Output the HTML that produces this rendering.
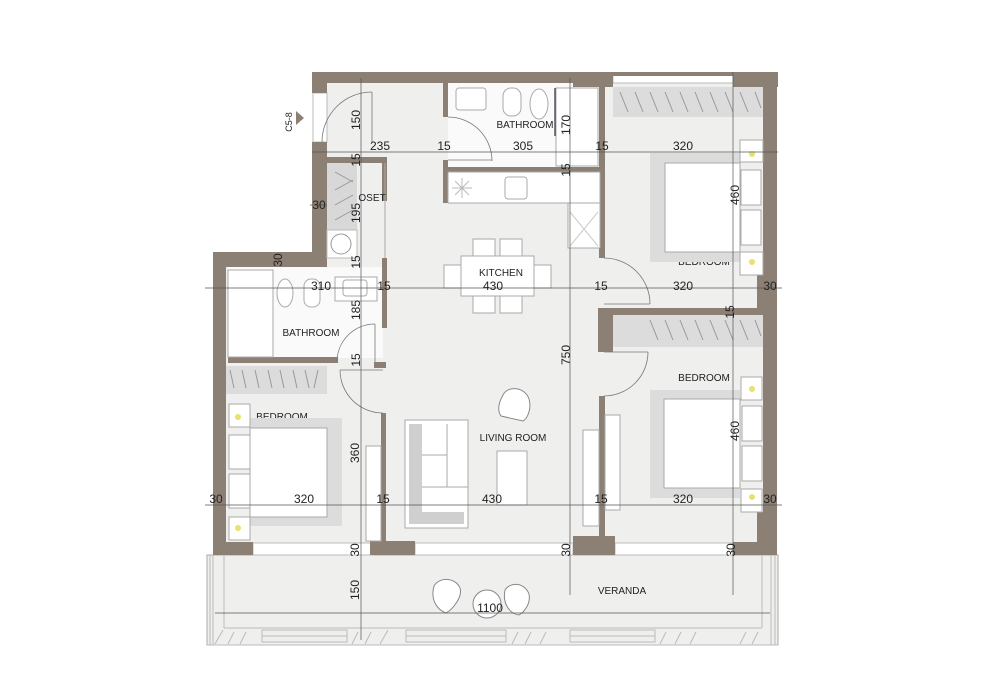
<!DOCTYPE html>
<html><head><meta charset="utf-8"><style>
html,body{margin:0;padding:0;background:#fff}
svg{display:block}
text{font-family:"Liberation Sans",sans-serif;fill:#222}
</style></head><body>
<svg width="1000" height="686" viewBox="0 0 1000 686" xmlns="http://www.w3.org/2000/svg">
<g fill="#efefee">
<rect x="327" y="83" width="440" height="460"/>
<rect x="226" y="265" width="110" height="278"/>
</g>
<rect x="448" y="83" width="152" height="84" fill="#fafafa"/>
<rect x="228" y="267" width="155" height="91" fill="#fafafa"/>
<rect x="207" y="555" width="571" height="90" fill="#efefee" stroke="#aaa" stroke-width="1"/>
<g stroke="#bbb" fill="none" stroke-width="1">
<line x1="210" y1="555" x2="210" y2="645"/><line x1="213" y1="555" x2="213" y2="645"/><line x1="224" y1="555" x2="224" y2="628"/>
<line x1="762" y1="555" x2="762" y2="628"/><line x1="771" y1="555" x2="771" y2="645"/><line x1="775" y1="555" x2="775" y2="645"/>
<line x1="224" y1="628" x2="762" y2="628"/><line x1="207" y1="645" x2="778" y2="645"/>
<rect x="262" y="630" width="85" height="12"/><rect x="406" y="630" width="100" height="12"/><rect x="570" y="630" width="85" height="12"/>
<line x1="262" y1="636" x2="347" y2="636"/><line x1="406" y1="636" x2="506" y2="636"/><line x1="570" y1="636" x2="655" y2="636"/>
<path d="M215 644l8-14M228 644l6-12M240 644l6-12M352 644l6-12M365 644l6-12M380 644l8-14M512 644l6-12M525 644l6-12M540 644l6-12M660 644l6-12M675 644l6-12M690 644l6-12M740 644l6-12M752 644l6-12"/>
</g>
<g fill="#fff" stroke="#bbb" stroke-width="1">
<rect x="253" y="543" width="120" height="12"/><rect x="415" y="543" width="158" height="12"/><rect x="615" y="543" width="118" height="12"/>
<rect x="313" y="93" width="14" height="49"/><rect x="613" y="73" width="120" height="10"/>
</g>
<g fill="#8c8075">
<rect x="312" y="72" width="261" height="11"/>
<rect x="573" y="72" width="40" height="15"/>
<rect x="613" y="72" width="120" height="4"/>
<rect x="733" y="72" width="45" height="15"/>
<rect x="763" y="72" width="14" height="483"/>
<rect x="757" y="252" width="20" height="95"/>
<rect x="757" y="512" width="20" height="43"/>
<rect x="312" y="72" width="15" height="21"/>
<rect x="312" y="142" width="15" height="125"/>
<rect x="213" y="252" width="114" height="15"/>
<rect x="213" y="252" width="13" height="303"/>
<rect x="213" y="542" width="40" height="13"/>
<rect x="370" y="541" width="45" height="14"/>
<rect x="573" y="536" width="42" height="19"/>
<rect x="733" y="542" width="44" height="13"/>
<rect x="443" y="83" width="5" height="34"/>
<rect x="443" y="160" width="5" height="43"/>
<rect x="443" y="167" width="162" height="5"/>
<rect x="599" y="83" width="6" height="175"/>
<rect x="598" y="308" width="15" height="44"/>
<rect x="613" y="308" width="150" height="7"/>
<rect x="599" y="396" width="6" height="140"/>
<rect x="327" y="157" width="60" height="6"/>
<rect x="382" y="157" width="5" height="44"/>
<rect x="382" y="258" width="5" height="70"/>
<rect x="228" y="357" width="110" height="6"/>
<rect x="374" y="362" width="12" height="6"/>
<rect x="381" y="413" width="5" height="128"/>
</g>
<rect x="327" y="163" width="30" height="67" fill="#d8d8d8"/>
<rect x="327" y="230" width="30" height="28" fill="#fff" stroke="#bbb"/>
<circle cx="341" cy="244" r="10" fill="none" stroke="#999"/>
<line x1="385" y1="163" x2="385" y2="258" stroke="#aaa"/>
<g fill="#fff" stroke="#aaa" stroke-width="1">
<rect x="448" y="172" width="152" height="31"/>
<rect x="568" y="203" width="32" height="45"/>
<rect x="505" y="177" width="22" height="22" rx="3"/>
</g>
<path d="M452 188h20M462 178v20M455 181l14 14M469 181l-14 14" stroke="#bbb"/>
<path d="M570 212l28 34M598 212l-28 34" stroke="#ccc"/>
<g fill="#fff" stroke="#aaa">
<rect x="456" y="88" width="30" height="22" rx="3"/>
<rect x="503" y="88" width="18" height="28" rx="8"/>
<ellipse cx="539" cy="104" rx="9" ry="15"/>
<rect x="556" y="88" width="42" height="78"/>
</g>
<line x1="555" y1="88" x2="555" y2="136" stroke="#556" stroke-width="1.5"/>
<g fill="#fff" stroke="#aaa">
<rect x="228" y="270" width="45" height="87"/>
<ellipse cx="285" cy="293" rx="8" ry="14"/>
<rect x="304" y="279" width="16" height="28" rx="7"/>
<rect x="335" y="277" width="42" height="24"/>
<rect x="343" y="280" width="24" height="16" rx="3"/>
</g>
<g fill="#dcdcdc">
<rect x="613" y="87" width="150" height="30"/>
<rect x="613" y="315" width="150" height="32"/>
<rect x="226" y="366" width="101" height="28"/>
</g>
<g stroke="#999" fill="none" stroke-width="1">
<path d="M620 92l8 20M635 92l8 20M650 92l8 20M665 92l8 20M680 92l8 20M695 92l8 20M710 92l8 20M725 92l8 20M740 92l8 20M755 92l6 16"/>
<path d="M650 320l8 20M665 320l8 20M680 320l8 20M695 320l8 20M710 320l8 20M725 320l8 20M740 320l8 20M755 320l6 16"/>
<path d="M230 370l4 18M242 370l4 18M255 370l4 18M268 370l4 18M280 370l4 18M293 370l4 18M305 370l4 18M318 370l-4 18"/>
<path d="M335 172l18 10M335 190l18-10M335 205l18-10M335 220l18-10"/>
</g>
<text x="282" y="420" text-anchor="middle" font-size="10">BEDROOM</text>
<text x="704" y="265" text-anchor="middle" font-size="10">BEDROOM</text>
<g>
<rect x="650" y="153" width="90" height="109" fill="#dcdcdc"/>
<rect x="665" y="163" width="75" height="89" fill="#fff" stroke="#aaa"/>
<rect x="650" y="390" width="90" height="108" fill="#dcdcdc"/>
<rect x="664" y="399" width="76" height="89" fill="#fff" stroke="#aaa"/>
<rect x="250" y="418" width="92" height="108" fill="#dcdcdc"/>
<rect x="250" y="428" width="77" height="89" fill="#fff" stroke="#aaa"/>
</g>
<g fill="#fff" stroke="#aaa">
<rect x="740" y="140" width="23" height="22"/><rect x="740" y="252" width="23" height="23"/>
<rect x="741" y="170" width="20" height="35"/><rect x="741" y="210" width="20" height="35"/>
<rect x="741" y="377" width="21" height="23"/><rect x="741" y="489" width="21" height="23"/>
<rect x="742" y="406" width="20" height="35"/><rect x="742" y="446" width="20" height="35"/>
<rect x="229" y="404" width="21" height="23"/><rect x="229" y="517" width="21" height="23"/>
<rect x="229" y="435" width="21" height="34"/><rect x="229" y="474" width="21" height="34"/>
</g>
<g fill="#e8e070"><circle cx="752" cy="154" r="3"/><circle cx="752" cy="262" r="3"/><circle cx="752" cy="389" r="3"/><circle cx="752" cy="497" r="3"/><circle cx="238" cy="417" r="3"/><circle cx="238" cy="528" r="3"/></g>
<rect x="405" y="420" width="63" height="108" fill="#fff" stroke="#aaa"/>
<rect x="409" y="424" width="13" height="100" fill="#cfcfcf"/>
<rect x="409" y="512" width="55" height="12" fill="#cfcfcf"/>
<path d="M422 455h25M422 487h25M447 424v63h21" stroke="#aaa" fill="none"/>
<rect x="497" y="451" width="30" height="54" fill="#fff" stroke="#aaa"/>
<path d="M503 395c5-10 22-8 26 4c3 10-2 20-6 22l-22-5c-4-6-2-14 2-21z" fill="#fff" stroke="#888"/>
<rect x="366" y="446" width="15" height="95" fill="#fff" stroke="#aaa"/>
<rect x="583" y="430" width="16" height="96" fill="#fff" stroke="#aaa"/>
<rect x="605" y="415" width="15" height="95" fill="#fff" stroke="#aaa"/>
<g fill="#fff" stroke="#aaa">
<rect x="473" y="239" width="22" height="17"/><rect x="500" y="239" width="22" height="17"/>
<rect x="473" y="296" width="22" height="17"/><rect x="500" y="296" width="22" height="17"/>
<rect x="444" y="265" width="17" height="23"/><rect x="534" y="265" width="17" height="23"/>
<rect x="461" y="256" width="73" height="40"/>
</g>
<g fill="#fff" stroke="#888">
<path d="M434 586c6-10 22-8 26 2c3 9-8 22-14 25c-8-3-16-12-12-27z"/>
<path d="M505 590c6-9 20-7 24 4c2 10-5 18-10 21c-8-1-17-10-14-25z"/>
<circle cx="487" cy="604" r="14"/>
</g>
<g fill="none" stroke="#777" stroke-width="0.8">
<path d="M322 142A50 50 0 0 1 372 92"/><line x1="372" y1="92" x2="372" y2="142"/>
<path d="M448 117A44 44 0 0 1 492 161"/><line x1="448" y1="160" x2="492" y2="160"/>
<path d="M604 258A46 46 0 0 1 650 304"/><line x1="604" y1="304" x2="650" y2="304"/>
<path d="M648 352A44 44 0 0 1 604 396"/><line x1="604" y1="352" x2="648" y2="352"/>
<path d="M375 324A38 38 0 0 0 337 362"/><line x1="375" y1="324" x2="375" y2="362"/>
<path d="M340 370A43 43 0 0 0 383 413"/><line x1="340" y1="370" x2="383" y2="370"/>
</g>
<g stroke="#555" stroke-width="0.7">
<line x1="312" y1="152" x2="778" y2="152"/>
<line x1="205" y1="288" x2="782" y2="288"/>
<line x1="205" y1="505" x2="782" y2="505"/>
<line x1="215" y1="613" x2="770" y2="613"/>
<line x1="361" y1="78" x2="361" y2="640"/>
<line x1="570" y1="78" x2="570" y2="595"/>
<line x1="733" y1="72" x2="733" y2="595"/>
<line x1="310" y1="205" x2="327" y2="205"/>
</g>
<g font-size="12">
<text x="380" y="150" text-anchor="middle">235</text>
<text x="444" y="150" text-anchor="middle">15</text>
<text x="523" y="150" text-anchor="middle">305</text>
<text x="602" y="150" text-anchor="middle">15</text>
<text x="683" y="150" text-anchor="middle">320</text>
<text x="321" y="290" text-anchor="middle">310</text>
<text x="384" y="290" text-anchor="middle">15</text>
<text x="493" y="290" text-anchor="middle">430</text>
<text x="601" y="290" text-anchor="middle">15</text>
<text x="683" y="290" text-anchor="middle">320</text>
<text x="770" y="290" text-anchor="middle">30</text>
<text x="216" y="503" text-anchor="middle">30</text>
<text x="304" y="503" text-anchor="middle">320</text>
<text x="383" y="503" text-anchor="middle">15</text>
<text x="492" y="503" text-anchor="middle">430</text>
<text x="601" y="503" text-anchor="middle">15</text>
<text x="683" y="503" text-anchor="middle">320</text>
<text x="770" y="503" text-anchor="middle">30</text>
<text x="319" y="209" text-anchor="middle">30</text>
<text x="490" y="612" text-anchor="middle">1100</text>
<text transform="translate(360,120) rotate(-90)" text-anchor="middle">150</text>
<text transform="translate(570,125) rotate(-90)" text-anchor="middle">170</text>
<text transform="translate(360,160) rotate(-90)" text-anchor="middle">15</text>
<text transform="translate(570,170) rotate(-90)" text-anchor="middle">15</text>
<text transform="translate(360,213) rotate(-90)" text-anchor="middle">195</text>
<text transform="translate(282,260) rotate(-90)" text-anchor="middle">30</text>
<text transform="translate(360,262) rotate(-90)" text-anchor="middle">15</text>
<text transform="translate(360,310) rotate(-90)" text-anchor="middle">185</text>
<text transform="translate(360,360) rotate(-90)" text-anchor="middle">15</text>
<text transform="translate(570,355) rotate(-90)" text-anchor="middle">750</text>
<text transform="translate(359,453) rotate(-90)" text-anchor="middle">360</text>
<text transform="translate(739,195) rotate(-90)" text-anchor="middle">460</text>
<text transform="translate(739,431) rotate(-90)" text-anchor="middle">460</text>
<text transform="translate(734,312) rotate(-90)" text-anchor="middle">15</text>
<text transform="translate(359,550) rotate(-90)" text-anchor="middle">30</text>
<text transform="translate(570,550) rotate(-90)" text-anchor="middle">30</text>
<text transform="translate(735,550) rotate(-90)" text-anchor="middle">30</text>
<text transform="translate(359,590) rotate(-90)" text-anchor="middle">150</text>
</g>
<g font-size="10">
<text x="525" y="128" text-anchor="middle">BATHROOM</text>
<text x="501" y="276" text-anchor="middle">KITCHEN</text>
<text x="372" y="201" text-anchor="middle">OSET</text>
<text x="311" y="336" text-anchor="middle">BATHROOM</text>
<text x="704" y="381" text-anchor="middle">BEDROOM</text>
<text x="513" y="441" text-anchor="middle">LIVING ROOM</text>
<text x="622" y="594" text-anchor="middle">VERANDA</text>
<text transform="translate(292,122) rotate(-90)" text-anchor="middle" font-size="9">C5-8</text>
</g>
<path d="M296 111l8 7l-8 7z" fill="#8c8075"/>
</svg>
</body></html>
